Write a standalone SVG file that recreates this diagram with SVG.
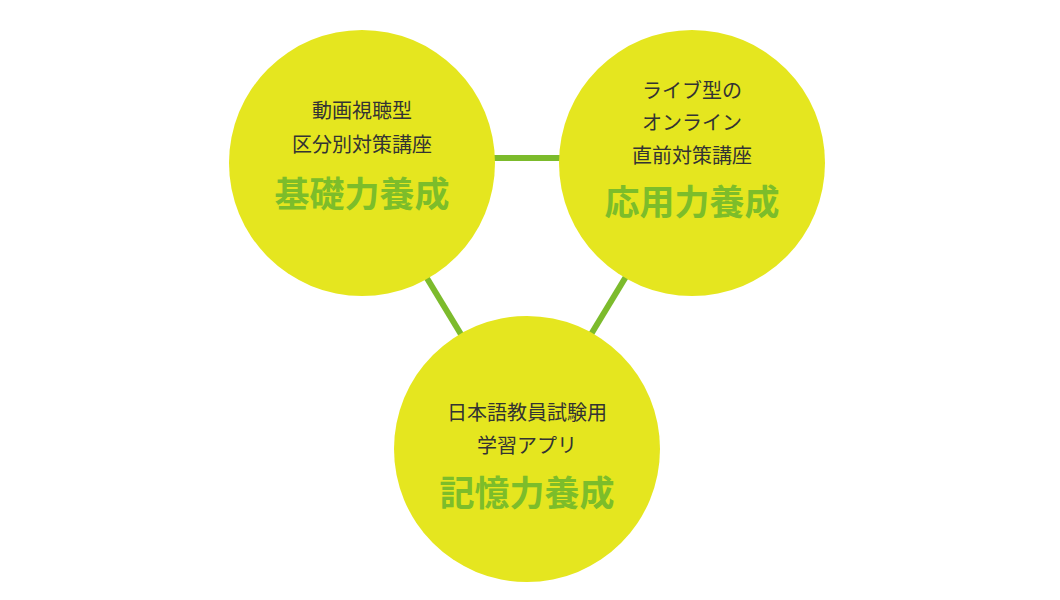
<svg xmlns="http://www.w3.org/2000/svg" width="1060" height="600" viewBox="0 0 1060 600">
<style>
.c{fill:#e5e61f}
.t{font-family:"Noto Sans CJK JP",sans-serif;font-size:20px;fill:#333;text-anchor:middle}
.h{font-family:"Noto Sans CJK JP",sans-serif;font-size:35px;font-weight:bold;fill:#7cbd2a;text-anchor:middle}
.l{stroke:#7cbb2c;stroke-width:6;fill:none}
</style>
<rect width="1060" height="600" fill="#fff"/>
<g id="connectors">
<line class="l" x1="490" y1="158" x2="565" y2="158"/>
<line class="l" x1="422" y1="270" x2="462" y2="336"/>
<line class="l" x1="630" y1="270" x2="590" y2="336"/>
</g>
<g id="node1">
<circle class="c" cx="362" cy="163" r="133"/>
<text class="t" x="362" y="118">動画視聴型</text>
<text class="t" x="362" y="152">区分別対策講座</text>
<text class="h" x="362" y="207">基礎力養成</text>
</g>
<g id="node2">
<circle class="c" cx="692" cy="163" r="133"/>
<text class="t" x="692" y="98">ライブ型の</text>
<text class="t" x="692" y="130">オンライン</text>
<text class="t" x="692" y="163">直前対策講座</text>
<text class="h" x="692" y="215">応用力養成</text>
</g>
<g id="node3">
<circle class="c" cx="527" cy="449" r="133"/>
<text class="t" x="527" y="420">日本語教員試験用</text>
<text class="t" x="527" y="453">学習アプリ</text>
<text class="h" x="527" y="506">記憶力養成</text>
</g>
</svg>
